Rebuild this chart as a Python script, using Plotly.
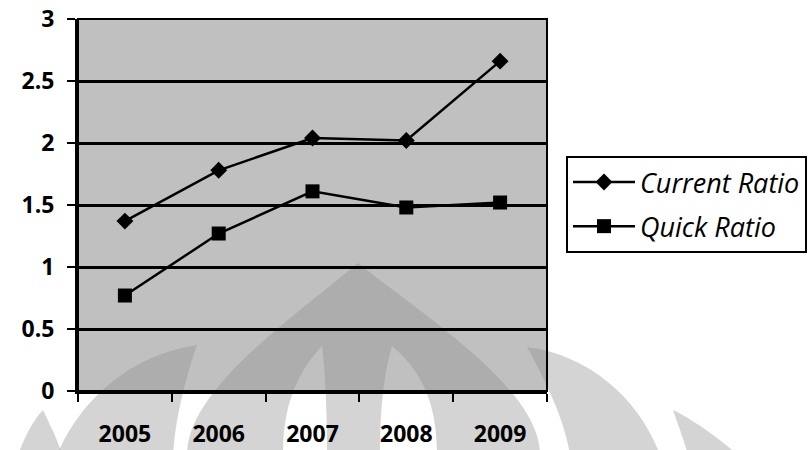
import plotly.graph_objects as go

# ---- data ----
years = ['2005', '2006', '2007', '2008', '2009']
current_ratio = [1.37, 1.78, 2.04, 2.02, 2.66]
quick_ratio = [0.77, 1.27, 1.61, 1.48, 1.52]
y_tick_values = [0, 0.5, 1, 1.5, 2, 2.5, 3]
y_tick_labels = ['0', '0.5', '1', '1.5', '2', '2.5', '3']
series_names = ['Current Ratio', 'Quick Ratio']

W, H = 811, 450
L, R, T, B = 78, 264, 19, 59
PW, PH = W - L - R, H - T - B


def px(x, y):
    return (x - L) / PW, (H - B - y) / PH


def path(segments):
    """segments: list of subpaths; each subpath = start point + list of cubic triples"""
    out = []
    for start, curves in segments:
        x0, y0 = px(*start)
        s = f"M{x0:.4f},{y0:.4f}"
        for c1, c2, e in curves:
            a = px(*c1); b = px(*c2); d = px(*e)
            s += f" C{a[0]:.4f},{a[1]:.4f} {b[0]:.4f},{b[1]:.4f} {d[0]:.4f},{d[1]:.4f}"
        s += " Z"
        out.append(s)
    return " ".join(out)


# watermark (decorative background logo)
wm_paths = [
    # central flame with two lens-shaped holes
    path([
        ((187, 455), [((187, 390), (290, 320), (358, 263)),
                      ((430, 320), (540, 390), (540, 455))]),
        ((283, 455), [((283, 400), (300, 370), (322, 346)),
                      ((326, 380), (327, 420), (327, 455))]),
        ((437, 455), [((437, 400), (420, 370), (392, 346)),
                      ((382, 380), (380, 420), (380, 455))]),
    ]),
    path([((57, 455), [((80, 400), (130, 355), (197, 345)),
                       ((185, 380), (175, 420), (173, 455))])]),
    path([((660, 455), [((640, 400), (590, 355), (527, 347)),
                        ((545, 380), (565, 420), (570, 455))])]),
    path([((18, 455), [((25, 435), (35, 418), (43, 410)),
                       ((50, 425), (58, 440), (62, 455))])]),
    path([((738, 455), [((715, 435), (690, 418), (673, 410)),
                        ((678, 425), (684, 440), (688, 455))])]),
]

fig = go.Figure()
fig.add_trace(go.Scatter(
    x=years, y=current_ratio, name=series_names[0], mode='lines+markers',
    line=dict(color='black', width=2.5),
    marker=dict(symbol='diamond', size=13, color='black'),
    legendgroup='a'))
fig.add_trace(go.Scatter(
    x=years, y=quick_ratio, name=series_names[1], mode='lines+markers',
    line=dict(color='black', width=2.5),
    marker=dict(symbol='square', size=14, color='black'),
    legendgroup='b'))

shapes = [dict(type='path', path=p, xref='paper', yref='paper',
               fillcolor='rgba(0,0,0,0.17)', line=dict(width=0),
               fillrule='evenodd', layer='below') for p in wm_paths]
# plot-area shading (scanned grey background), over the watermark
shapes.append(dict(type='rect', xref='paper', yref='paper', x0=0, x1=1, y0=0, y1=1,
                   fillcolor='rgba(140,140,140,0.55)', line=dict(width=0), layer='below'))
# plot-area frame
shapes.append(dict(type='rect', xref='paper', yref='paper', x0=0, x1=1, y0=0, y1=1,
                   line=dict(color='black', width=2), layer='above'))

fig.update_layout(
    width=W, height=H,
    margin=dict(l=L, r=R, t=T, b=B, pad=0, autoexpand=False),
    paper_bgcolor='white',
    plot_bgcolor='rgba(0,0,0,0)',
    font=dict(family='Open Sans', color='black'),
    showlegend=True,
    legend=dict(
        x=(566 - L) / PW, y=(H - B - 156) / PH, xanchor='left', yanchor='top',
        bgcolor='white', bordercolor='black', borderwidth=2,
        font=dict(family='Open Sans', size=27, style='italic', color='black'),
        tracegroupgap=6, itemwidth=62,
    ),
    shapes=shapes,
    xaxis=dict(
        type='category', range=[-0.5, 4.5], tickson='boundaries', ticks='outside',
        ticklen=8, tickwidth=2, tickcolor='black', showline=True, linecolor='black',
        linewidth=3, showgrid=False, zeroline=False,
        tickfont=dict(family='Open Sans', size=23, weight='bold', color='black'),
        ticklabelstandoff=20,
    ),
    yaxis=dict(
        range=[0, 3], tickmode='array', tickvals=y_tick_values, ticktext=y_tick_labels,
        ticks='outside', ticklen=8, tickwidth=2, tickcolor='black',
        showline=True, linecolor='black', linewidth=3,
        showgrid=True, gridcolor='black', gridwidth=3, zeroline=False,
        tickfont=dict(family='Open Sans', size=23, weight='bold', color='black'),
        ticklabelstandoff=8,
    ),
)

fig.write_html('out.html')
